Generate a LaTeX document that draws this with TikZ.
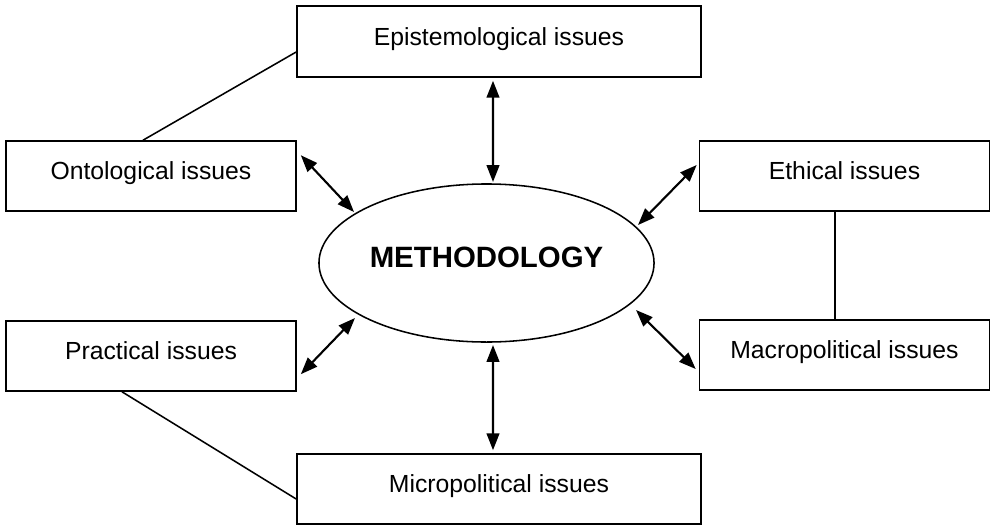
\documentclass[tikz,border=0pt]{standalone}
\usepackage{fontspec}
\setmainfont{Liberation Sans}
\usetikzlibrary{shapes.geometric,arrows.meta}
\def\issuenode{\node[draw=black,line width=1.1pt,rectangle,inner sep=0pt,text height=0.73em,text depth=0.21em,font=\fontsize{17.6}{21}\selectfont]}
\def\drawlink{\draw[line width=1.1pt]}
\def\drawboth{\draw[line width=1.5pt,{Triangle[length=12pt,width=9pt]}-{Triangle[length=12pt,width=9pt]}]}

\begin{document}
\begin{tikzpicture}[x=0.025cm,y=-0.025cm]
\useasboundingbox (0,0) rectangle (990,526);

% -------- centre ---------
\node[draw=black,line width=1.1pt,ellipse,inner sep=0pt,minimum width=8.375cm,minimum height=3.95cm,text depth=0.3cm,font=\fontsize{20.9}{25}\selectfont\bfseries] (meth) at (486.5,263) {METHODOLOGY};

% -------- the six issues ---------
\issuenode[minimum width=10.1cm,minimum height=1.775cm] (epi) at (499,41.5) {Epistemological issues};
\issuenode[minimum width=7.25cm,minimum height=1.75cm] (onto) at (151,176) {Ontological issues};
\issuenode[minimum width=7.25cm,minimum height=1.75cm] (ethic) at (844.5,176) {Ethical issues};
\issuenode[minimum width=7.25cm,minimum height=1.75cm] (pract) at (151,356) {Practical issues};
\issuenode[minimum width=7.25cm,minimum height=1.75cm] (macro) at (844.5,355) {Macropolitical issues};
\issuenode[minimum width=10.1cm,minimum height=1.75cm] (micro) at (499,489) {Micropolitical issues};

% -------- arrows to and from the centre ---------
\drawboth ([shift={(-6,3)}]epi.south) -- ([shift={(6.5,-81)}]meth.center);
\drawboth ([shift={(4,15)}]onto.north east) -- ([shift={(-132.5,-51)}]meth.center);
\drawboth ([shift={(-2,-11)}]ethic.west) -- ([shift={(151.5,-38)}]meth.center);
\drawboth ([shift={(4,54)}]pract.north east) -- ([shift={(-131.5,55)}]meth.center);
\drawboth ([shift={(-3,14)}]macro.west) -- ([shift={(149.5,47)}]meth.center);
\drawboth ([shift={(-6,-3)}]micro.north) -- ([shift={(6.5,82)}]meth.center);

% -------- plain links ---------
\drawlink ([shift={(0,10.5)}]epi.west) -- ([shift={(-8,0)}]onto.north);
\drawlink ([shift={(-9.5,0)}]ethic.south) -- ([shift={(-9.5,0)}]macro.north);
\drawlink ([shift={(-29,0)}]pract.south) -- ([shift={(0,10)}]micro.west);
\end{tikzpicture}
\end{document}
